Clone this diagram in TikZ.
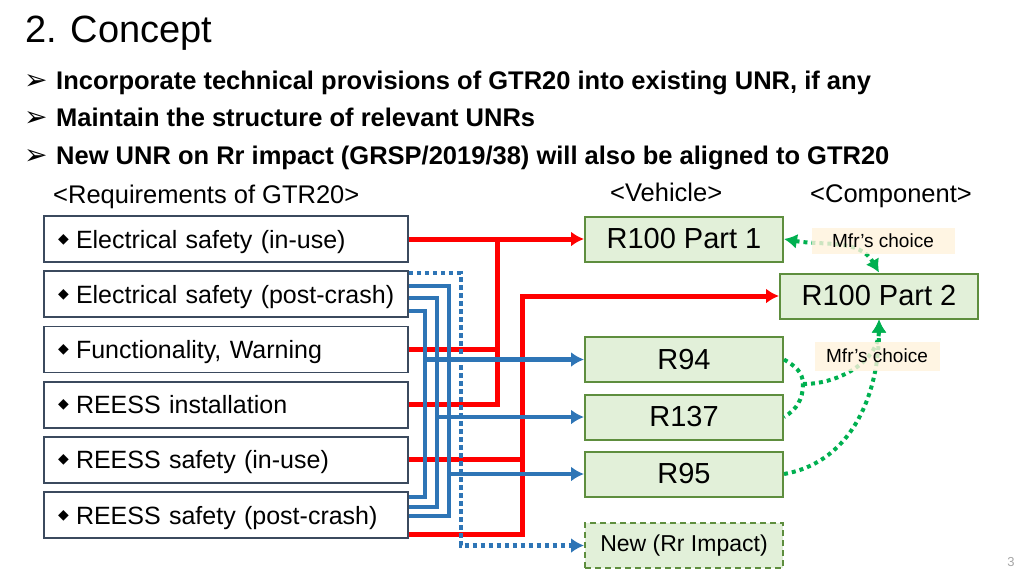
\documentclass[tikz,border=0pt]{standalone}
\usepackage{fontspec}
\setmainfont{Liberation Sans}
\newfontfamily\symfont{DejaVu Sans}
\usetikzlibrary{arrows.meta}

\definecolor{wirered}{HTML}{FF0000}
\definecolor{wireblue}{HTML}{2E75B6}
\definecolor{choicegreen}{HTML}{00B050}
\definecolor{vehfill}{HTML}{E2F0D9}
\definecolor{vehdraw}{HTML}{5E8E3E}
\definecolor{reqdraw}{HTML}{3B4A5E}
\definecolor{notefill}{HTML}{FFF2DC}
\newcommand{\pxfont}[1]{\fontsize{#1}{#1}\selectfont}

\begin{document}
\begin{tikzpicture}[x=1pt,y=1pt,>={Latex[length=13pt,width=15pt]},
  heading/.style={inner sep=0pt,anchor=base west,font=\pxfont{25.5}},
  req/.style={draw=reqdraw,line width=1.8pt,fill=white,text width=348pt,align=left,inner xsep=8pt,inner ysep=0pt,text height=23pt,text depth=5pt,minimum height=46pt,font=\pxfont{25}},
  veh/.style={draw=vehdraw,line width=2pt,fill=vehfill,minimum width=198pt,minimum height=45pt,inner sep=0pt,font=\pxfont{29}},
  note/.style={fill=notefill,fill opacity=0.8,text opacity=1,inner sep=0pt,font=\pxfont{19}},
  redwire/.style={draw=wirered,line width=5pt},
  bluewire/.style={draw=wireblue,line width=4.5pt},
  bluedots/.style={draw=wireblue,line width=4.5pt,dash pattern=on 4.5pt off 3.5pt},
  choice/.style={draw=choicegreen,line width=4pt,dash pattern=on 4pt off 4pt}]
\useasboundingbox (0,0) rectangle (1024,-576);

\node[heading,font=\pxfont{38}] (title) at (25,-42) {2. Concept};
\foreach \t[count=\i] in {{Incorporate technical provisions of GTR20 into existing UNR, if any},{Maintain the structure of relevant UNRs},{New UNR on Rr impact (GRSP/2019/38) will also be aligned to GTR20}} {
   \node[heading,font=\pxfont{25.5}\bfseries] (point\i) at (27,{-89-37.5*(\i-1)}) {\makebox[29pt][l]{\hspace*{-3pt}\symfont\pxfont{28}\raisebox{0pt}{➢}}\t};
}

\node[heading] (reqhead) at (53,-203) {<Requirements of GTR20>};
\node[heading] (vehhead) at (610,-201) {<Vehicle>};
\node[heading] (comphead) at (810,-202) {<Component>};

\foreach \t[count=\i] in {Electrical safety (in-use),Electrical safety (post-crash),{Functionality, Warning},REESS installation,REESS safety (in-use),REESS safety (post-crash)} {
   \node[req] (G\i) at (226,{-239-55.2*(\i-1)}) {\makebox[24pt][l]{\hspace*{6pt}\symfont\pxfont{14}\raisebox{5pt}{◆}}\t};
}

\node[veh] (r100a) at (684,-239) {R100 Part 1};
\node[veh] (r100b) at (879,-296) {R100 Part 2};
\node[veh] (r94) at (684,-359.5) {R94};
\node[veh] (r137) at (684,-417) {R137};
\node[veh] (r95) at (684,-474) {R95};
\node[veh,dash pattern=on 6pt off 4pt,font=\pxfont{23}] (rnew) at (684,-545.5) {New (Rr Impact)};

% vehicle / component wiring
\draw[redwire,->] (G1) -- (r100a);
\path (G1.east) ++(89,0) coordinate (jA);
\foreach \g in {3,4} \draw[redwire] (G\g.east) -| (jA);
\path (r100b.west) ++(-257,0) coordinate (jB);
\draw[redwire,->] ([yshift=-19pt]G6.east) -| (jB) -- (r100b.west);
\draw[redwire] (G5.east) -| (jB);

\foreach \a/\dx/\b/\n in {-17/16/18/r94,-4/28/8/r137,8/40/-1/r95} {
  \draw[bluewire] ([yshift=\a pt]G2.east) -- ++(\dx,0) |- ([yshift=\b pt]G6.east);
  \draw[bluewire,->] ([yshift=\a pt]G2.east) -- ++(\dx,0) |- (\n.west);
}
\draw[bluedots,->] ([yshift=21pt]G2.east) -- ++(52,0) |- (rnew.west);

% manufacturer's choice
\coordinate (m) at (803,-384);
\draw[choice,<->] (r100a.east) to[out=-10,in=120] (r100b.north);
\draw[choice] (r94.east) to[out=-30,in=90] (m) to[out=-90,in=30] (r137.east);
\draw[choice,->] (m) to[out=0,in=-90] (r100b.south);
\draw[choice,->] (r95.east) to[out=10,in=-90] (r100b.south);
\node[note,minimum width=143pt,minimum height=26pt] (note1) at (883,-241) {Mfr’s choice};
\node[note,minimum width=125pt,minimum height=29pt] (note2) at (877,-356) {Mfr’s choice};

\node[inner sep=0pt,font=\pxfont{13},text=gray!70] (page) at (1011,-562) {3};
\end{tikzpicture}
\end{document}
